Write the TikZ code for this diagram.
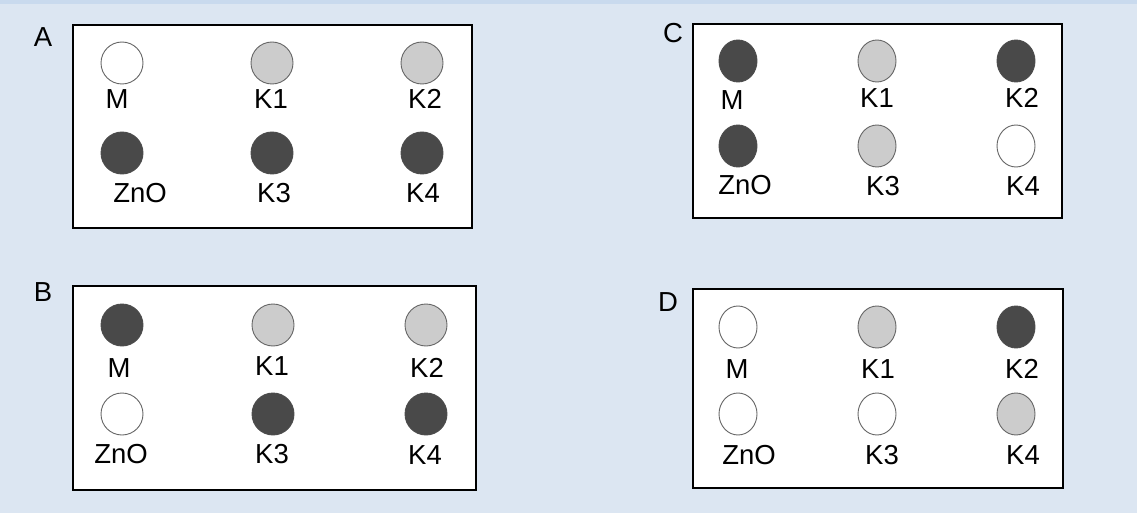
\documentclass[tikz,border=0pt]{standalone}
\usepackage{fontspec}
\setmainfont{Liberation Sans}
\usetikzlibrary{shapes.geometric}
\definecolor{bg}{HTML}{DCE6F2}
\definecolor{bgtop}{HTML}{C9DAEE}
\definecolor{dk}{HTML}{494949}
\definecolor{lt}{HTML}{CCCCCC}
\tikzset{
  panel/.style={draw=black, line width=1.8pt, fill=white},
  dot/.style={ellipse, inner sep=0pt, draw=#1, line width=0.9pt},
  dotA/.style={dot=#1, minimum width=42pt, minimum height=42pt},
  dotC/.style={dot=#1, minimum width=38pt, minimum height=42pt},
  wf/.style={fill=white},
  lf/.style={fill=lt},
  df/.style={fill=dk},
  lbl/.style={anchor=base, inner sep=0pt, font=\fontsize{27.5}{32}\selectfont},
}
\begin{document}
\begin{tikzpicture}[x=1pt,y=-1pt]
\useasboundingbox (0,0) rectangle (1137,513);
\fill[bg] (0,0) rectangle (1137,513);
\fill[bgtop] (0,0) rectangle (1137,4);
% Panel A
\node[panel, minimum width=399pt, minimum height=203pt, inner sep=0pt] (boxA) at (272.5,126.5) {};
\node[lbl] (tA) at (43,47) {A};
\node[dotA=gray!80!black, wf] (aM) at (122,63) {};
\node[dotA=gray!80!black, lf] (aK1) at (272,63) {};
\node[dotA=gray!80!black, lf] (aK2) at (422,63) {};
\node[dotA=black!70, df] (aZ) at (122,153) {};
\node[dotA=black!70, df] (aK3) at (272,153) {};
\node[dotA=black!70, df] (aK4) at (422,153) {};
\node[lbl] (laM) at (117,109) {M};
\node[lbl] (laK1) at (271,109) {K1};
\node[lbl] (laK2) at (425,109) {K2};
\node[lbl] (laZ) at (140,203) {ZnO};
\node[lbl] (laK3) at (274,202) {K3};
\node[lbl] (laK4) at (423,202) {K4};
% Panel C
\node[panel, minimum width=369pt, minimum height=194pt, inner sep=0pt] (boxC) at (877.5,121) {};
\node[lbl] (tC) at (673,43) {C};
\node[dotC=black!70, df] (cM) at (738,61) {};
\node[dotC=gray!80!black, lf] (cK1) at (877,61) {};
\node[dotC=black!70, df] (cK2) at (1016,61) {};
\node[dotC=black!70, df] (cZ) at (738,146) {};
\node[dotC=gray!80!black, lf] (cK3) at (877,146) {};
\node[dotC=gray!80!black, wf] (cK4) at (1016,146) {};
\node[lbl] (lcM) at (732,110) {M};
\node[lbl] (lcK1) at (877,108) {K1};
\node[lbl] (lcK2) at (1022,108) {K2};
\node[lbl] (lcZ) at (745,195) {ZnO};
\node[lbl] (lcK3) at (883,196) {K3};
\node[lbl] (lcK4) at (1023,196) {K4};
% Panel B
\node[panel, minimum width=403pt, minimum height=204pt, inner sep=0pt] (boxB) at (274.5,388) {};
\node[lbl] (tB) at (43,301) {B};
\node[dotA=black!70, df] (bM) at (122,325) {};
\node[dotA=gray!80!black, lf] (bK1) at (273,325) {};
\node[dotA=gray!80!black, lf] (bK2) at (426,325) {};
\node[dotA=gray!80!black, wf] (bZ) at (122,414) {};
\node[dotA=black!70, df] (bK3) at (273,414) {};
\node[dotA=black!70, df] (bK4) at (426,414) {};
\node[lbl] (lbM) at (119,377) {M};
\node[lbl] (lbK1) at (272,375) {K1};
\node[lbl] (lbK2) at (427,377) {K2};
\node[lbl] (lbZ) at (121,463) {ZnO};
\node[lbl] (lbK3) at (272,463) {K3};
\node[lbl] (lbK4) at (425,464) {K4};
% Panel D
\node[panel, minimum width=370pt, minimum height=199pt, inner sep=0pt] (boxD) at (878,388.5) {};
\node[lbl] (tD) at (668,311) {D};
\node[dotC=gray!80!black, wf] (dM) at (738,327) {};
\node[dotC=gray!80!black, lf] (dK1) at (877,327) {};
\node[dotC=black!70, df] (dK2) at (1016,327) {};
\node[dotC=gray!80!black, wf] (dZ) at (738,414) {};
\node[dotC=gray!80!black, wf] (dK3) at (877,414) {};
\node[dotC=gray!80!black, lf] (dK4) at (1016,414) {};
\node[lbl] (ldM) at (737,378) {M};
\node[lbl] (ldK1) at (878,378) {K1};
\node[lbl] (ldK2) at (1022,378) {K2};
\node[lbl] (ldZ) at (749,464) {ZnO};
\node[lbl] (ldK3) at (882,464) {K3};
\node[lbl] (ldK4) at (1023,464) {K4};
\end{tikzpicture}
\end{document}
